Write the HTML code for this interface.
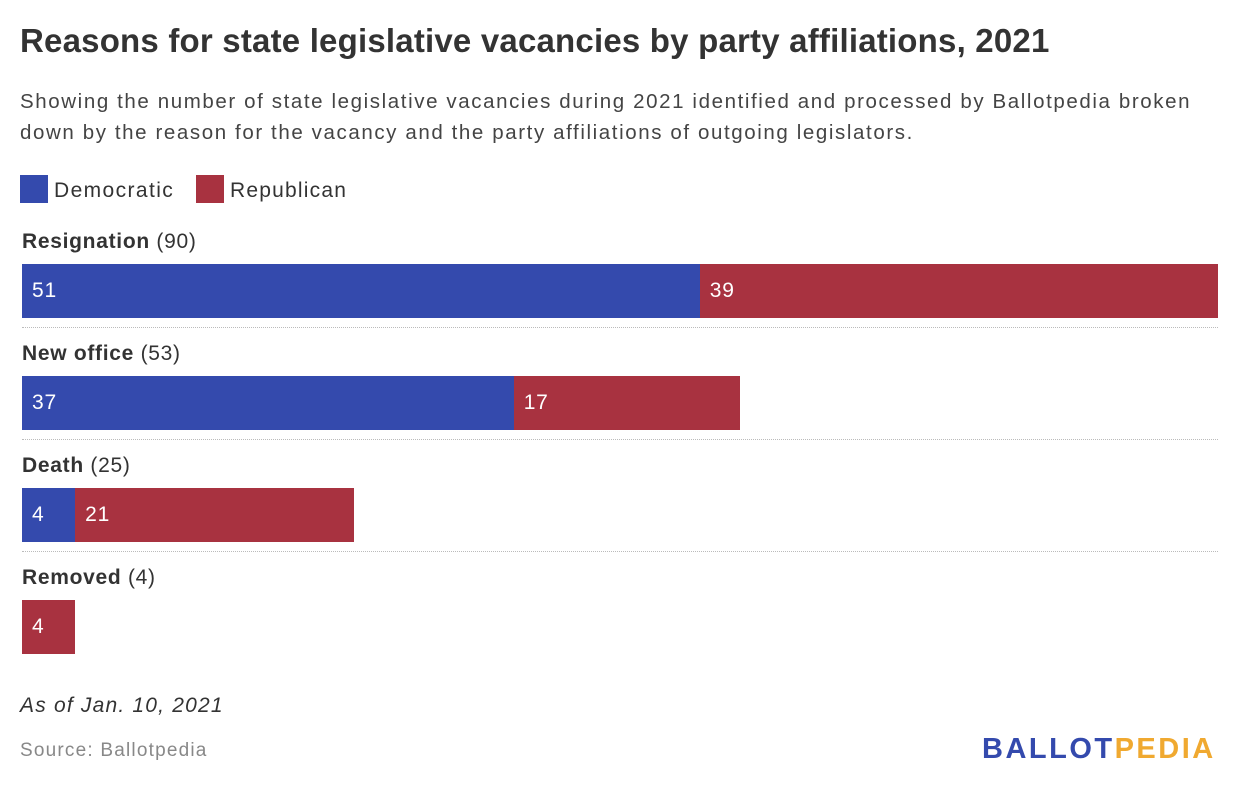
<!DOCTYPE html>
<html><head><meta charset="utf-8"><style>
body{margin:0;width:1240px;height:794px;background:#fff;font-family:"Liberation Sans",sans-serif;color:#333;position:relative;overflow:hidden}
.a{position:absolute;white-space:nowrap}
</style></head><body>
<div class="a" style="left:20px;top:22px;font-size:33px;font-weight:bold;color:#333;letter-spacing:0.2px">Reasons for state legislative vacancies by party affiliations, 2021</div>
<div class="a" style="left:20px;top:86px;font-size:20.5px;line-height:31px;color:#444;letter-spacing:1.6px">Showing the number of state legislative vacancies during 2021 identified and processed by Ballotpedia broken<br>down by the reason for the vacancy and the party affiliations of outgoing legislators.</div>
<div class="a" style="left:20px;top:175px;font-size:21px;line-height:27px;letter-spacing:1.4px"><span style="display:inline-block;width:28px;height:28px;background:#344aad;vertical-align:-6px;margin-right:6px"></span>Democratic</div>
<div class="a" style="left:196px;top:175px;font-size:21px;line-height:27px;letter-spacing:1.2px"><span style="display:inline-block;width:28px;height:28px;background:#a83240;vertical-align:-6px;margin-right:6px"></span>Republican</div>
<div id="chart"></div>
<div class="a" style="left:20px;top:694px;font-size:21px;font-style:italic;color:#333;letter-spacing:1.2px">As of Jan. 10, 2021</div>
<div class="a" style="left:20px;top:740px;font-size:19px;color:#888;letter-spacing:1.2px">Source: Ballotpedia</div>
<div class="a" style="left:982px;top:733px;font-size:29px;font-weight:bold;letter-spacing:2.5px"><span style="color:#344aad">BALLOT</span><span style="color:#f0a930">PEDIA</span></div>
<script>
const categories=["Resignation","New office","Death","Removed"];
const totals=[90,53,25,4];
const dem=[51,37,4,0];
const rep=[39,17,21,4];
const x0=22,scale=1196/90;
const c=document.getElementById('chart');
categories.forEach((cat,i)=>{
  const top=230+i*112;
  const l=document.createElement('div');
  l.className='a';
  l.style.cssText=`left:22px;top:${top}px;font-size:21px;letter-spacing:0.7px`;
  l.innerHTML=`<b>${cat}</b> (${totals[i]})`;
  
  
  c.appendChild(l);
  let x=x0;
  [[dem[i],'#344aad'],[rep[i],'#a83240']].forEach(([v,col])=>{
    if(!v)return;
    const w=v*scale;
    const b=document.createElement('div');
    b.className='a';
    b.style.cssText=`left:${x}px;top:${top+34}px;width:${w}px;height:54px;background:${col};color:#fff;font-size:21px;line-height:54px;box-sizing:border-box;padding-left:10px;letter-spacing:0.8px`;
    b.textContent=v;
    
    
    c.appendChild(b);x+=w;
  });
  if(i<categories.length-1){
    const s=document.createElement('div');
    s.className='a';
    s.style.cssText=`left:22px;top:${top+97}px;width:1196px;border-top:1px dotted #bbb`;
    
    
    c.appendChild(s);
  }
});
</script>
</body></html>
